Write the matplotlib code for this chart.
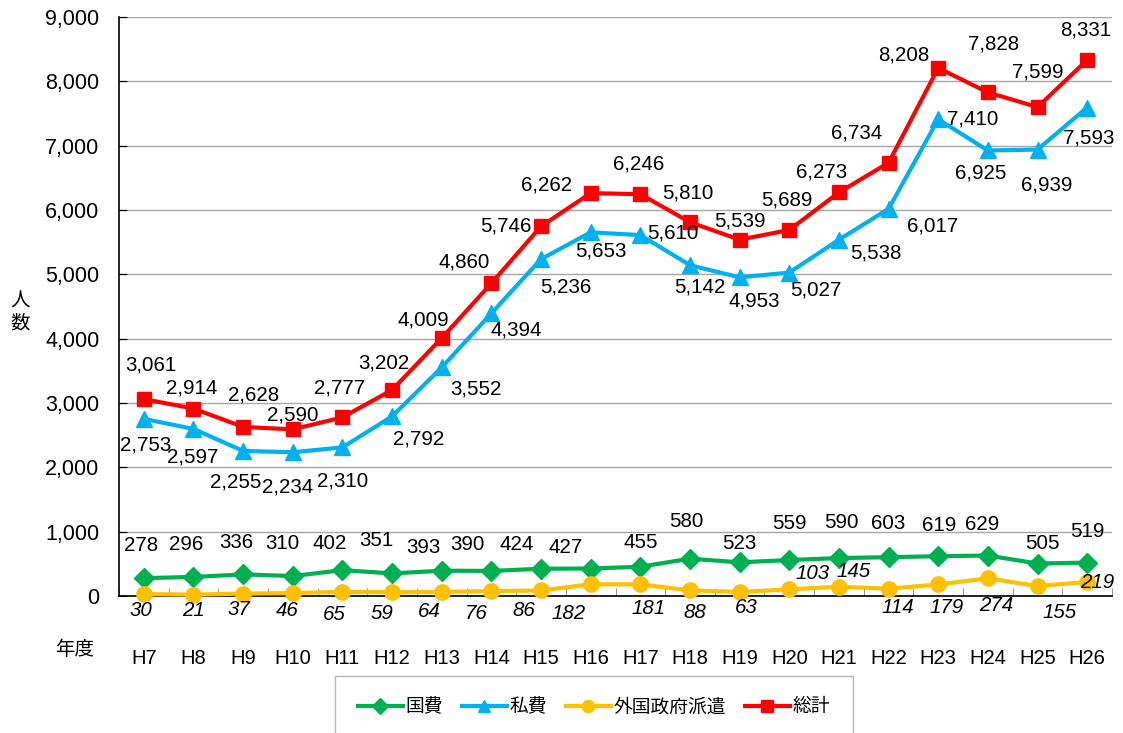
import matplotlib
matplotlib.use("Agg")
import matplotlib.pyplot as plt
from matplotlib.ticker import FuncFormatter, MultipleLocator, FixedLocator
import numpy as np

plt.rcParams['font.family'] = ['Liberation Sans', 'Noto Sans CJK JP', 'DejaVu Sans']

years = ["H7", "H8", "H9", "H10", "H11", "H12", "H13", "H14", "H15", "H16",
         "H17", "H18", "H19", "H20", "H21", "H22", "H23", "H24", "H25", "H26"]
kokuhi = [278, 296, 336, 310, 402, 351, 393, 390, 424, 427,
          455, 580, 523, 559, 590, 603, 619, 629, 505, 519]
shihi = [2753, 2597, 2255, 2234, 2310, 2792, 3552, 4394, 5236, 5653,
         5610, 5142, 4953, 5027, 5538, 6017, 7410, 6925, 6939, 7593]
gaikoku = [30, 21, 37, 46, 65, 59, 64, 76, 86, 182,
           181, 88, 63, 103, 145, 114, 179, 274, 155, 219]
soukei = [3061, 2914, 2628, 2590, 2777, 3202, 4009, 4860, 5746, 6262,
          6246, 5810, 5539, 5689, 6273, 6734, 8208, 7828, 7599, 8331]

# label offsets in pixels (dx, dy with dy downward as in image)
off_kokuhi = [(-3, -33), (-7, -32), (-7, -32), (-10, -33), (-13, -27), (-16, -33), (-18, -23), (-24, -26), (-24, -24), (-25, -21),
              (0, -24), (-4, -37), (0, -19), (0, -37), (2, -36), (0, -34), (1, -31), (-6, -31), (5, -20), (0, -31)]
off_shihi = [(2, 26), (-1, 28), (-7, 31), (-5, 35), (0, 34), (27, 23), (34, 22), (25, 17), (25, 28), (10, 19),
             (33, -2), (10, 22), (15, 24), (27, 17), (37, 13), (44, 17), (34, 0), (-7, 23), (9, 35), (2, 30)]
off_gaikoku = [(-3, 16), (0, 16), (-4, 16), (-6, 17), (-8, 23), (-10, 21), (-13, 20), (-15, 22), (-17, 20), (-22, 29),
               (8, 24), (5, 22), (7, 16), (23, -16), (15, -15), (9, 19), (8, 23), (8, 27), (22, 26), (10, 1)]
off_soukei = [(7, -34), (-2, -21), (10, -32), (0, -14), (-3, -29), (-8, -27), (-18, -18), (-27, -21), (-35, 0), (-44, -8),
              (-2, -30), (-2, -29), (0, -19), (-2, -30), (-17, -20), (-32, -30), (-34, -13), (6, -48), (0, -35), (-1, -30)]

fig = plt.figure(figsize=(11.23, 7.33), dpi=100)
ax = fig.add_axes([119/1123, 1 - 596/733, (1112 - 119)/1123, (596 - 17)/733])

x = np.arange(len(years))
series = [
    ("国費", kokuhi, "#00B050", "D", 10, off_kokuhi, "normal"),
    ("私費", shihi, "#00B0F0", "^", 11, off_shihi, "normal"),
    ("外国政府派遣", gaikoku, "#FFC000", "o", 11, off_gaikoku, "italic"),
    ("総計", soukei, "#FF0000", "s", 10, off_soukei, "normal"),
]
handles = []
for name, vals, col, mk, ms, offs, style in series:
    h, = ax.plot(x, vals, color=col, lw=3, marker=mk, markersize=ms,
                 markeredgecolor=col, label=name, zorder=3, clip_on=False)
    handles.append(h)
    for xi, v, (dx, dy) in zip(x, vals, offs):
        ax.annotate(f"{v:,}", (xi, v), xytext=(dx, -dy), textcoords="offset pixels",
                    ha="center", va="center", fontsize=14.8, fontstyle=style,
                    color="black", zorder=5, annotation_clip=False)

ax.set_xlim(-0.5, len(years) - 0.5)
ax.set_ylim(0, 9000)
ax.yaxis.set_major_locator(MultipleLocator(1000))
ax.yaxis.set_major_formatter(FuncFormatter(lambda v, p: f"{int(v):,}"))
ax.grid(axis="y", color="#A6A6A6", lw=1)
ax.set_axisbelow(True)
for s in ["top", "right"]:
    ax.spines[s].set_visible(False)
ax.spines["left"].set_linewidth(1.2)
ax.spines["bottom"].set_linewidth(1.2)
ax.tick_params(axis="y", direction="in", length=6, labelsize=15.5, pad=14)
ax.set_xticks(x)
ax.set_xticklabels(years)
ax.tick_params(axis="x", which="major", length=0, labelsize=14.5, pad=38)
ax.xaxis.set_minor_locator(FixedLocator(np.arange(-0.5, len(years), 1.0)))
ax.tick_params(axis="x", which="minor", direction="in", length=6, color="#808080")

fig.text(20/1123, 1 - 313/733, "人\n数", fontsize=14, ha="center", va="center", linespacing=1.3)
fig.text(75/1123, 1 - 650/733, "年度", fontsize=14, ha="center", va="center")

leg = fig.legend(handles=handles, loc="upper center", bbox_to_anchor=(594/1123, 1 - 676/733),
                 ncol=4, frameon=True, fontsize=13.5, handlelength=2.4, handletextpad=0.15,
                 columnspacing=1.0, borderpad=1.2, borderaxespad=0, fancybox=False,
                 edgecolor="#A6A6A6", markerscale=0.8)
leg.get_frame().set_linewidth(1.0)
leg.get_texts()[2].set_fontstyle("italic")

fig.savefig("out.png", dpi=100)
